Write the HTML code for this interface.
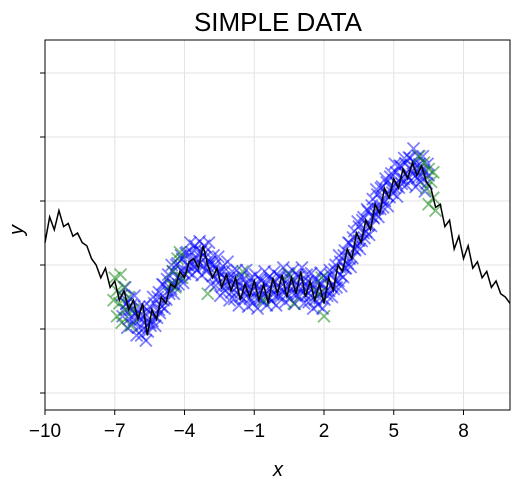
<!DOCTYPE html>
<html><head><meta charset="utf-8"><style>
body{margin:0;background:#fff;width:520px;height:490px;overflow:hidden}
svg{display:block;font-family:"Liberation Sans","DejaVu Sans",sans-serif}
</style></head><body>
<svg id="chart" width="520" height="490"></svg>
<script>
const xTicks=[-10,-7,-4,-1,2,5,8];
const yTicks=[-2,-1,0,1,2,3];
const lineX=[];for(let i=0;i<=100;i++)lineX.push(-10+i*0.2);
const lineY=[0.35,0.75,0.55,0.85,0.6,0.65,0.45,0.5,0.35,0.3,0.1,0.0,-0.2,-0.05,-0.35,-0.25,-0.55,-0.4,-0.7,-0.55,-0.85,-0.6,-1.1,-0.7,-0.85,-0.5,-0.6,-0.3,-0.35,-0.1,-0.2,0.05,0.1,-0.05,0.3,0.0,-0.2,-0.05,-0.35,-0.15,-0.4,-0.2,-0.55,-0.3,-0.5,-0.25,-0.55,-0.3,-0.6,-0.2,-0.45,-0.15,-0.5,-0.2,-0.45,-0.1,-0.5,-0.25,-0.55,-0.3,-0.6,-0.2,-0.4,0.0,-0.1,0.25,0.1,0.5,0.35,0.7,0.55,0.95,0.8,1.2,1.05,1.35,1.2,1.5,1.35,1.6,1.4,1.55,1.3,1.2,0.9,0.95,0.6,0.7,0.25,0.45,0.1,0.3,-0.05,0.05,-0.2,-0.1,-0.35,-0.25,-0.45,-0.5,-0.6];
const blueX=[];for(let i=0;i<=65;i++)blueX.push(-6.6+i*0.2);
const blueMid=[-0.6,-0.7,-0.78,-0.85,-0.9,-0.9,-0.8,-0.7,-0.55,-0.4,-0.3,-0.2,-0.1,0.0,0.05,0.1,0.12,0.12,0.05,-0.05,-0.12,-0.2,-0.25,-0.3,-0.33,-0.35,-0.38,-0.4,-0.4,-0.4,-0.4,-0.38,-0.36,-0.35,-0.34,-0.33,-0.33,-0.33,-0.34,-0.35,-0.38,-0.4,-0.42,-0.4,-0.33,-0.25,-0.15,-0.05,0.1,0.25,0.38,0.5,0.62,0.75,0.88,1.0,1.1,1.2,1.28,1.35,1.42,1.5,1.52,1.5,1.45,1.4];
const blueHi=[-0.35,-0.52,-0.48,-0.65,-0.65,-0.72,-0.5,-0.5,-0.3,-0.22,0.0,0.0,0.15,0.18,0.35,0.3,0.37,0.3,0.35,0.15,0.13,-0.02,0.05,-0.1,-0.08,-0.17,-0.08,-0.2,-0.15,-0.22,-0.1,-0.18,-0.11,-0.17,-0.04,-0.13,-0.08,-0.15,-0.04,-0.15,-0.13,-0.22,-0.12,-0.2,-0.08,-0.07,0.15,0.15,0.35,0.43,0.68,0.7,0.87,0.93,1.18,1.2,1.35,1.38,1.58,1.55,1.67,1.68,1.82,1.7,1.7,1.58];
const blueLo=[-0.8,-0.98,-0.93,-1.1,-1.1,-1.18,-0.95,-0.95,-0.75,-0.68,-0.45,-0.45,-0.3,-0.28,-0.1,-0.15,-0.08,-0.16,-0.1,-0.3,-0.32,-0.48,-0.4,-0.55,-0.53,-0.63,-0.53,-0.65,-0.6,-0.68,-0.55,-0.63,-0.56,-0.63,-0.49,-0.58,-0.53,-0.61,-0.49,-0.6,-0.58,-0.68,-0.62,-0.68,-0.48,-0.5,-0.35,-0.33,-0.05,-0.03,0.23,0.25,0.42,0.47,0.73,0.75,0.9,0.92,1.13,1.07,1.27,1.25,1.32,1.22,1.3,1.15];
const greenX=[-7.0,-6.9,-6.8,-6.9,-6.7,-6.6,-6.5,-6.3,-6.4,-7.05,-4.5,-4.3,-4.1,-4.4,-3.0,-1.5,-0.6,0.5,0.7,1.9,2.0,1.8,6.3,6.5,6.6,6.7,6.5,6.8,6.4,6.7,6.1,-6.2,-6.75,-4.6,-4.2];
const greenY=[-0.2,-0.4,-0.6,-0.8,-0.9,-0.35,-0.7,-0.95,-0.5,-0.55,-0.1,0.1,-0.2,-0.35,-0.45,-0.1,-0.55,-0.15,-0.6,-0.2,-0.8,-0.45,1.6,1.5,1.3,1.05,0.95,0.85,1.2,1.45,1.7,-0.7,-0.15,-0.3,0.2];

const L=45,R=510,T=40,B=410;
const sx=v=>L+(v+10)*(R-L)/20;
const sy=v=>265-v*64;
const NS='http://www.w3.org/2000/svg';
const svg=document.getElementById('chart');
function mk(t,a,p){const e=document.createElementNS(NS,t);for(const k in a)e.setAttribute(k,a[k]);(p||svg).appendChild(e);return e;}

const grid=mk('g',{});


xTicks.forEach(t=>{mk('line',{x1:sx(t),x2:sx(t),y1:T,y2:B,stroke:'#e3e3e3','stroke-width':1},grid);});
yTicks.forEach(t=>{mk('line',{x1:L,x2:R,y1:sy(t),y2:sy(t),stroke:'#e3e3e3','stroke-width':1},grid);});

const pts=mk('g',{});


function cross(x,y,c,g){const px=sx(x),py=sy(y),s=6;
 const p=mk('path',{d:`M${px-s},${py-s}L${px+s},${py+s}M${px-s},${py+s}L${px+s},${py-s}`,stroke:c,'stroke-opacity':0.5,'stroke-width':1.8,fill:'none'},g);
 
 }
blueX.forEach((x,i)=>{
 cross(x+0.05,blueHi[i],'#0000ff',pts);cross(x-0.06,blueLo[i],'#0000ff',pts);cross(x+0.1,blueMid[i],'#0000ff',pts);
 cross(x-0.1,(blueHi[i]+blueMid[i])/2,'#0000ff',pts);cross(x+0.02,(blueLo[i]+blueMid[i])/2,'#0000ff',pts);
});
greenX.forEach((x,i)=>cross(x,greenY[i],'#008000',pts));

const line=mk('polyline',{points:lineX.map((x,i)=>sx(x)+','+sy(lineY[i])).join(' '),fill:'none',stroke:'#000','stroke-width':1.5});



const frame=mk('rect',{x:L,y:T,width:R-L,height:B-T,fill:'none',stroke:'#000','stroke-width':1});



xTicks.forEach(t=>{mk('line',{x1:sx(t),x2:sx(t),y1:B,y2:B+5,stroke:'#000'});
 const tx=mk('text',{x:sx(t),y:B+27,'text-anchor':'middle','font-size':19});tx.textContent=String(t).replace('-','\u2212');
 
 });
yTicks.forEach(t=>{mk('line',{x1:L-5,x2:L,y1:sy(t),y2:sy(t),stroke:'#000'});});

const title=mk('text',{x:278,y:31,'text-anchor':'middle','font-size':26});title.textContent='SIMPLE DATA';


const xl=mk('text',{x:278,y:476,'text-anchor':'middle','font-size':20,'font-style':'italic'});xl.textContent='x';


const yl=mk('text',{x:23,y:230,'text-anchor':'middle','font-size':20,'font-style':'italic',transform:'rotate(-90 23 230)'});yl.textContent='y';


</script>
</body></html>
